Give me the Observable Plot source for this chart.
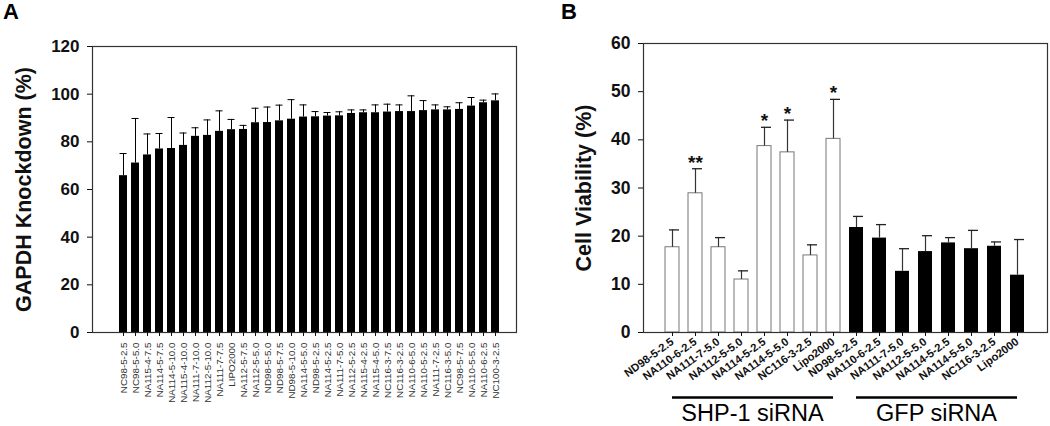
<!DOCTYPE html>
<html>
<head>
<meta charset="utf-8">
<script src="https://cdn.jsdelivr.net/npm/d3@7"></script>
<script src="https://cdn.jsdelivr.net/npm/@observablehq/plot@0.6"></script>
<style>
  body { margin: 0; background: #fff; }
  #wrap { position: relative; width: 1050px; height: 426px; overflow: hidden; background: #fff; font-family: "Liberation Sans", Arial, sans-serif; }
  #wrap svg { position: absolute; top: 0; }
  .panel-letter { position: absolute; top: 1px; font: bold 22px/22px "Liberation Sans", Arial, sans-serif; color: #000; z-index: 2; }
</style>
</head>
<body>
<div id="wrap">
  <div class="panel-letter" style="left:3px">A</div>
  <div class="panel-letter" style="left:561px">B</div>
</div>
<script>
// ---------- Panel A data ----------
const gapdhLabels = ["NC98-5-2.5","NC98-5-5.0","NA115-4-7.5","NA114-5-7.5","NA114-5-10.0","NA115-4-10.0","NA111-7-10.0","NA112-5-10.0","NA111-7-7.5","LIPO2000","NA112-5-7.5","NA112-5-5.0","ND98-5-5.0","ND98-5-7.5","ND98-5-10.0","NA114-5-5.0","ND98-5-2.5","NA114-5-2.5","NA111-7-5.0","NA112-5-2.5","NA115-4-2.5","NA115-4-5.0","NC116-3-7.5","NC116-3-2.5","NA110-6-5.0","NA110-5-2.5","NA111-7-2.5","NC116-3-5.0","NC98-5-7.5","NA110-5-5.0","NA110-6-2.5","NC100-3-2.5"];
const gapdhMean = [65.8,71.1,74.5,77.0,77.2,78.5,82.3,82.7,84.4,85.1,85.2,88.0,88.1,88.8,89.5,90.4,90.5,90.8,90.9,91.9,92.2,92.2,92.5,92.7,92.7,93.1,93.4,93.4,93.6,95.0,96.4,97.2];
const gapdhSd = [9.3,18.7,8.8,6.5,13.0,5.2,3.6,6.5,8.6,4.3,1.7,6.1,6.5,6.6,8.2,5.1,2.2,1.5,1.7,1.5,1.2,3.3,3.3,2.8,6.6,4.2,2.1,1.3,2.8,3.6,1.1,2.9];
const gapdhTicks = [0,20,40,60,80,100,120];
const gapdhTitle = "GAPDH Knockdown (%)";

// ---------- Panel B data ----------
const viabLabels = ["ND98-5-2.5","NA110-6-2.5","NA111-7-5.0","NA112-5-5.0","NA114-5-2.5","NA114-5-5.0","NC116-3-2.5","Lipo2000"];
const groups = ["SHP-1 siRNA","GFP siRNA"];
const shpMean = [17.7,28.9,17.7,11.0,38.7,37.4,16.0,40.2];
const shpSd = [3.6,5.1,2.0,1.8,3.9,6.7,2.2,8.2];
const shpSig = ["","**","","","*","*","","*"];
const gfpMean = [21.8,19.6,12.7,16.8,18.6,17.4,17.9,11.9];
const gfpSd = [2.3,2.8,4.7,3.3,1.1,3.8,0.9,7.4];
const gfpSig = ["","","","","","","",""];
const viabTicks = [0,10,20,30,40,50,60];
const viabTitle = "Cell Viability (%)";

const FONT = "Liberation Sans, Arial, sans-serif";

// ---------- Panel A ----------
const dataA = gapdhLabels.map((name, i) => ({name, mean: gapdhMean[i], top: gapdhMean[i] + gapdhSd[i]}));

const chartA = Plot.plot({
  width: 530, height: 426,
  marginLeft: 92, marginRight: 14, marginTop: 46, marginBottom: 94,
  style: {fontFamily: FONT, background: "transparent", color: "#111"},
  x: {domain: gapdhLabels, paddingInner: 0.34, paddingOuter: 0.59, align: 0.62, label: null},
  y: {domain: [0, 120], label: null},
  marks: [
    Plot.barY(dataA, {x: "name", y: "mean", fill: "#000"}),
    Plot.ruleX(dataA, {x: "name", y1: "mean", y2: "top", stroke: "#000", strokeWidth: 1}),
    Plot.tickY(dataA, {x: "name", y: "top", stroke: "#000", strokeWidth: 1, insetLeft: 0.5, insetRight: 0.5}),
    Plot.frame({stroke: "#333", strokeWidth: 1.2}),
    Plot.axisY({ticks: gapdhTicks, tickSize: 5, tickPadding: 8, fontSize: 17, fontWeight: "bold", fill: "#111", label: null}),
    Plot.axisX({tickSize: 4, tickRotate: -90, tickPadding: 6, fontSize: 9.8, fill: "#333", label: null}),
    Plot.text([gapdhTitle], {frameAnchor: "left", textAnchor: "middle", rotate: -90, dx: -68, fontSize: 21.5, fontWeight: "bold", fill: "#111"})
  ]
});
chartA.style.left = "0px";
document.getElementById("wrap").appendChild(chartA);

// ---------- Panel B ----------
const dataB = [];
viabLabels.forEach((label, i) => dataB.push({id: groups[0] + "|" + label, group: groups[0], label, mean: shpMean[i], top: shpMean[i] + shpSd[i], sig: shpSig[i]}));
viabLabels.forEach((label, i) => dataB.push({id: groups[1] + "|" + label, group: groups[1], label, mean: gfpMean[i], top: gfpMean[i] + gfpSd[i], sig: gfpSig[i]}));

const whiteBars = dataB.filter(d => d.group === groups[0]);
const blackBars = dataB.filter(d => d.group === groups[1]);

const chartB = Plot.plot({
  width: 525, height: 426,
  marginLeft: 118, marginRight: 3, marginTop: 43, marginBottom: 94,
  style: {fontFamily: FONT, background: "transparent", color: "#111"},
  x: {domain: dataB.map(d => d.id), paddingInner: 0.37, paddingOuter: 0.685, label: null},
  y: {domain: [0, 60], label: null},
  marks: [
    Plot.barY(whiteBars, {x: "id", y: "mean", fill: "#fff", stroke: "#777", strokeWidth: 1}),
    Plot.barY(blackBars, {x: "id", y: "mean", fill: "#000"}),
    Plot.ruleX(dataB, {x: "id", y1: "mean", y2: "top", stroke: "#333", strokeWidth: 1.2}),
    Plot.tickY(dataB, {x: "id", y: "top", stroke: "#222", strokeWidth: 1.3, insetLeft: 4, insetRight: 0}),
    Plot.text(dataB.filter(d => d.sig), {x: "id", y: "top", text: "sig", dy: 0, lineAnchor: "bottom", fontSize: 19, fontWeight: "bold", fill: "#111"}),
    Plot.frame({stroke: "#333", strokeWidth: 1.2}),
    Plot.axisY({ticks: viabTicks, tickSize: 5, tickPadding: 8, fontSize: 17.5, fontWeight: "bold", fill: "#111", label: null}),
    Plot.axisX({tickSize: 4, tickRotate: -36, tickPadding: 4, fontSize: 11.2, fontWeight: "bold", fill: "#111", label: null, tickFormat: d => d.split("|")[1]}),
    Plot.text([viabTitle], {frameAnchor: "left", textAnchor: "middle", rotate: -90, dx: -59, fontSize: 21.5, fontWeight: "bold", fill: "#111"})
  ]
});
chartB.style.left = "525px";
document.getElementById("wrap").appendChild(chartB);

// group bars and labels under panel B, placed with the plot's own x scale
const xs = chartB.scale("x");
const center = id => xs.apply(id) + xs.bandwidth / 2;
const svgB = d3.select(chartB);
groups.forEach(g => {
  const ids = dataB.filter(d => d.group === g).map(d => d.id);
  const x1 = center(ids[0]), x2 = center(ids[ids.length - 1]);
  svgB.append("line").attr("x1", x1).attr("x2", x2).attr("y1", 397.5).attr("y2", 397.5)
    .attr("stroke", "#000").attr("stroke-width", 2.6);
  svgB.append("text").attr("x", (x1 + x2) / 2).attr("y", 421)
    .attr("text-anchor", "middle").attr("font-size", 23.5).attr("font-family", FONT)
    .attr("fill", "#000").text(g);
});
</script>
</body>
</html>
